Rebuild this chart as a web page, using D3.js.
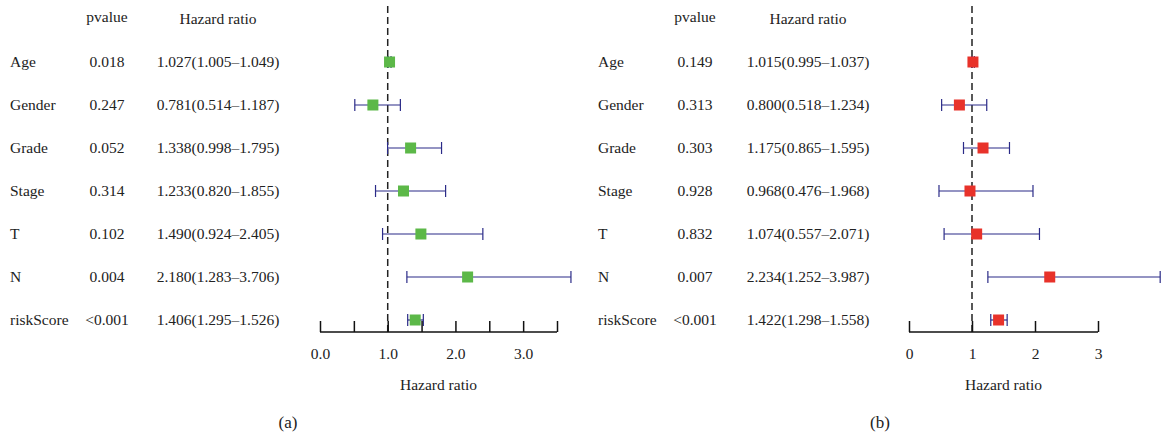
<!DOCTYPE html><html><head><meta charset="utf-8"><script src="https://cdn.jsdelivr.net/npm/d3@7"></script>
<style>body{margin:0;background:#fff}text{font-family:"Liberation Serif",serif;fill:#222}</style></head><body><svg width="1162" height="439"></svg><script>
const categories=["Age","Gender","Grade","Stage","T","N","riskScore"];
const pvalA=["0.018","0.247","0.052","0.314","0.102","0.004","<0.001"];
const hrA=[1.027,0.781,1.338,1.233,1.490,2.180,1.406];
const lowA=[1.005,0.514,0.998,0.820,0.924,1.283,1.295];
const highA=[1.049,1.187,1.795,1.855,2.405,3.706,1.526];
const pvalB=["0.149","0.313","0.303","0.928","0.832","0.007","<0.001"];
const hrB=[1.015,0.800,1.175,0.968,1.074,2.234,1.422];
const lowB=[0.995,0.518,0.865,0.476,0.557,1.252,1.298];
const highB=[1.037,1.234,1.595,1.968,2.071,3.987,1.558];
const ticksA=[0,0.5,1,1.5,2,2.5,3,3.5];
const ticksB=[0,1,2,3];
const svg=d3.select("svg");
const y=d3.scalePoint().domain(categories).range([62,320]);
const FS=15.5;
function panel(o){
 const g=svg.append("g");
 const x=d3.scaleLinear().domain([0,o.max]).range([o.x0,o.x1]);
 g.append("text").attr("x",o.px).attr("y",22).attr("text-anchor","middle").attr("font-size",FS).text("pvalue");
 g.append("text").attr("x",o.hx).attr("y",24).attr("text-anchor","middle").attr("font-size",FS).text("Hazard ratio");
 categories.forEach((c,i)=>{
  const yy=y(c);
  g.append("text").attr("x",o.lx).attr("y",yy+5).attr("font-size",FS).text(c);
  g.append("text").attr("x",o.px).attr("y",yy+5).attr("text-anchor","middle").attr("font-size",FS).text(o.p[i]);
  g.append("text").attr("x",o.hx).attr("y",yy+5).attr("text-anchor","middle").attr("font-size",FS)
   .text(`${o.hr[i].toFixed(3)}(${o.lo[i].toFixed(3)}\u2013${o.hi[i].toFixed(3)})`);
 });
 g.append("line").attr("x1",x(1)).attr("x2",x(1)).attr("y1",6).attr("y2",332).attr("stroke","#222").attr("stroke-width",1.5).attr("stroke-dasharray","7,4");
 categories.forEach((c,i)=>{
  const yy=y(c),c2="#2b2b88";
  g.append("line").attr("x1",x(o.lo[i])).attr("x2",x(o.hi[i])).attr("y1",yy).attr("y2",yy).attr("stroke",c2).attr("stroke-width",1.2);
  [o.lo[i],o.hi[i]].forEach(v=>g.append("line").attr("x1",x(v)).attr("x2",x(v)).attr("y1",yy-6).attr("y2",yy+6).attr("stroke",c2).attr("stroke-width",1.2));
  g.append("rect").attr("x",x(o.hr[i])-5.5).attr("y",yy-5.5).attr("width",11).attr("height",11).attr("fill",o.col);
 });
 const ax=g.append("g").attr("transform","translate(0,332)").call(d3.axisBottom(x).tickValues(o.ticks).tickSize(10).tickFormat(d=>o.fmt(d)));
 ax.select(".domain").attr("stroke","#111").attr("stroke-width",1.5).attr("d",`M${o.x0},0H${o.x1}`);
 ax.selectAll(".tick line").attr("y1",0).attr("y2",-11).attr("stroke","#111").attr("stroke-width",1.5);
 ax.selectAll(".tick text").attr("font-size",FS).attr("y",16).attr("fill","#222").attr("font-family","Liberation Serif, serif");
 g.append("text").attr("x",(o.x0+o.x1)/2).attr("y",390).attr("text-anchor","middle").attr("font-size",FS).text("Hazard ratio");
 g.append("text").attr("x",o.cap).attr("y",428).attr("text-anchor","middle").attr("font-size",17).text(o.label);
}
panel({x0:320,x1:557,max:3.5,lx:10,px:107,hx:218,p:pvalA,hr:hrA,lo:lowA,hi:highA,col:"#5cb848",ticks:ticksA,
 fmt:d=>Number.isInteger(d)?d.toFixed(1):"",cap:288,label:"(a)"});
panel({x0:909,x1:1098,max:3,lx:598,px:695,hx:808,p:pvalB,hr:hrB,lo:lowB,hi:highB,col:"#e8322a",ticks:ticksB,
 fmt:d=>String(d),cap:880,label:"(b)"});
</script></body></html>
